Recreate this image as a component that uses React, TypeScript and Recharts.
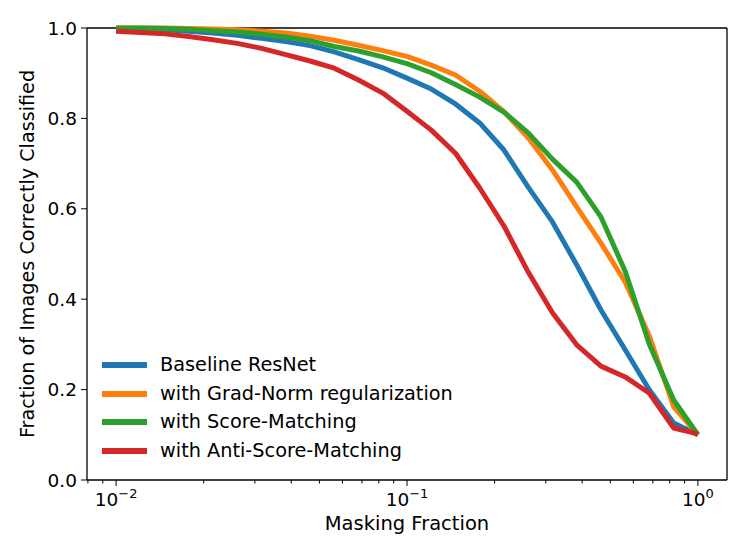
import { LineChart, Line, XAxis, YAxis, ReferenceLine } from 'recharts';

// masking fractions (log spaced 1e-2 .. 1)
const maskingFraction = [
  0.01, 0.01212, 0.01468, 0.01778, 0.02154, 0.0261, 0.03162, 0.03831, 0.04642, 0.05623, 0.06813, 0.08254,
  0.1, 0.1212, 0.1468, 0.1778, 0.2154, 0.261, 0.3162, 0.3831, 0.4642, 0.5623, 0.6813, 0.8254, 1.0,
];

const baseline = [
  0.999, 0.998, 0.996, 0.993, 0.989, 0.984, 0.977, 0.97, 0.961, 0.947, 0.93, 0.912,
  0.889, 0.865, 0.832, 0.79, 0.73, 0.648, 0.571, 0.476, 0.376, 0.288, 0.199, 0.126, 0.1,
];
const gradNorm = [
  1.0, 1.0, 1.0, 0.999, 0.998, 0.996, 0.993, 0.989, 0.982, 0.973, 0.962, 0.95,
  0.937, 0.918, 0.896, 0.86, 0.815, 0.757, 0.686, 0.604, 0.524, 0.438, 0.318, 0.162, 0.1,
];
const scoreMatching = [
  1.0, 1.0, 0.999, 0.997, 0.994, 0.991, 0.986, 0.98, 0.972, 0.959, 0.949, 0.936,
  0.921, 0.901, 0.875, 0.847, 0.814, 0.768, 0.71, 0.659, 0.582, 0.462, 0.3, 0.177, 0.1,
];
const antiScoreMatching = [
  0.993, 0.99, 0.987, 0.981, 0.974, 0.966, 0.955, 0.941, 0.927, 0.911, 0.885, 0.856,
  0.816, 0.774, 0.723, 0.646, 0.562, 0.46, 0.37, 0.299, 0.252, 0.228, 0.192, 0.115, 0.102,
];

const seriesNames = [
  'Baseline ResNet',
  'with Grad-Norm regularization',
  'with Score-Matching',
  'with Anti-Score-Matching',
];
const seriesKeys = ['baseline', 'gradNorm', 'scoreMatching', 'antiScoreMatching'];
const colors = ['#1f77b4', '#ff7f0e', '#2ca02c', '#d62728'];

const xMajorTicks = [0.01, 0.1, 1];
const xMinorTicks = [
  0.008, 0.009, 0.02, 0.03, 0.04, 0.05, 0.06, 0.07, 0.08, 0.09,
  0.2, 0.3, 0.4, 0.5, 0.6, 0.7, 0.8, 0.9,
];
const yTicks = [0, 0.2, 0.4, 0.6, 0.8, 1.0];
const xDomain = [Math.pow(10, -2.1), Math.pow(10, 0.1)];

const data = maskingFraction.map((x, i) => ({
  x,
  baseline: baseline[i],
  gradNorm: gradNorm[i],
  scoreMatching: scoreMatching[i],
  antiScoreMatching: antiScoreMatching[i],
}));

const FONT = '"DejaVu Sans", sans-serif';

function LogTick(props: any) {
  const { x, y, payload } = props;
  const v = payload.value;
  const isMajor = xMajorTicks.includes(v);
  const exp = Math.round(Math.log10(v));
  return (
    <g>
      <line x1={x} x2={x} y1={y} y2={y + (isMajor ? 6 : 3.5)} stroke="#000" strokeWidth={1} />
      {isMajor && (
        <text x={x} y={y + 26} textAnchor="middle" fontFamily={FONT} fontSize={18.5} fill="#000">
          <tspan>10</tspan>
          <tspan dy={-8} fontSize={13}>{exp === 0 ? '0' : '\u2212' + Math.abs(exp)}</tspan>
        </text>
      )}
    </g>
  );
}

function LegendBox() {
  return (
    <div
      style={{
        position: 'absolute',
        left: 94,
        top: 343,
        fontFamily: FONT,
        fontSize: 19.3,
        lineHeight: '28.5px',
        pointerEvents: 'none',
      }}
    >
      {seriesNames.map((name, i) => (
        <div key={name} style={{ display: 'flex', alignItems: 'center', height: 28.5 }}>
          <svg width={45} height={6} style={{ marginRight: 13 }}>
            <line x1={0} x2={45} y1={3} y2={3} stroke={colors[i]} strokeWidth={6} />
          </svg>
          <span>{name}</span>
        </div>
      ))}
    </div>
  );
}

export default function App() {
  return (
    <div style={{ position: 'relative', width: 730, height: 545 }}>
      <LineChart
        width={730}
        height={545}
        data={data}
        margin={{ top: 20, right: 11, bottom: 13, left: 0 }}
        style={{ fontFamily: FONT }}
      >
        <XAxis
          dataKey="x"
          type="number"
          scale="log"
          domain={xDomain}
          allowDataOverflow
          ticks={[...xMinorTicks, ...xMajorTicks].sort((a, b) => a - b)}
          interval={0}
          tick={<LogTick />}
          tickLine={false}
          tickSize={0}
          tickMargin={0}
          height={60}
          axisLine={{ stroke: '#000', strokeWidth: 1.3 }}
          label={{ value: 'Masking Fraction', position: 'center', dy: 13, fontSize: 19.5, fill: '#000', fontFamily: FONT }}
        />
        <YAxis
          type="number"
          domain={[0, 1]}
          ticks={yTicks}
          width={79}
          tickFormatter={(v: number) => v.toFixed(1)}
          tick={{ fontSize: 18.5, fill: '#000', fontFamily: FONT }}
          tickLine={{ stroke: '#000', strokeWidth: 1 }}
          tickSize={6}
          tickMargin={4}
          axisLine={{ stroke: '#000', strokeWidth: 1.3 }}
          label={{
            value: 'Fraction of Images Correctly Classified',
            angle: -90,
            position: 'center',
            dx: -20.5,
            fontSize: 19.2,
            fill: '#000',
            fontFamily: FONT,
          }}
        />
        <ReferenceLine y={1} stroke="#000" strokeWidth={1.3} />
        <ReferenceLine x={xDomain[1]} stroke="#000" strokeWidth={1.3} />
        {seriesKeys.map((k, i) => (
          <Line
            key={k}
            type="linear"
            dataKey={k}
            name={seriesNames[i]}
            stroke={colors[i]}
            strokeWidth={5}
            strokeLinejoin="round"
            dot={false}
            activeDot={false}
            isAnimationActive={false}
          />
        ))}
      </LineChart>
      <LegendBox />
    </div>
  );
}
